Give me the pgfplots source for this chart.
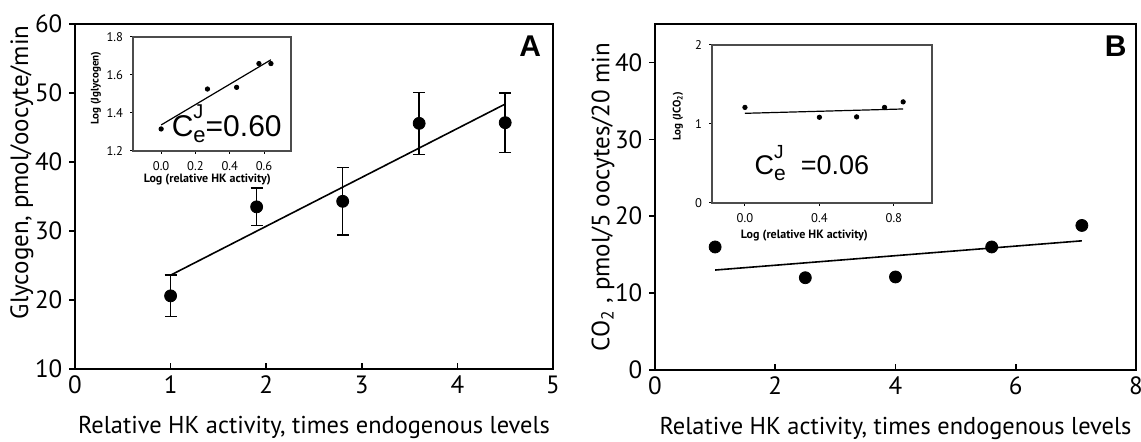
\documentclass[border=0pt]{standalone}
\usepackage{pgfplots}
\pgfplotsset{compat=1.18}
\usepackage{fontspec}
\setmainfont{PT Sans}
\newfontfamily\arial{Liberation Sans}
\pgfplotstableread{
x y e
1.0 20.6 3.0
1.9 33.5 2.7
2.8 34.3 4.9
3.6 45.6 4.5
4.5 45.7 4.3
}\dataA
\pgfplotstableread{
x y
1.0 16.0
2.5 12.0
4.0 12.1
5.6 16.0
7.1 18.8
}\dataB
\pgfplotstableread{
x y
0.00 1.316
0.27 1.526
0.44 1.535
0.57 1.66
0.64 1.66
}\insetA
\pgfplotstableread{
x y
0.00 1.21
0.40 1.085
0.60 1.09
0.75 1.21
0.85 1.28
}\insetB
\pgfplotsset{
  mainax/.style={
    scale only axis, anchor=south west,
    axis line style={line width=0.9pt},
    tick style={black, line width=0.8pt},
    xtick pos=bottom, ytick pos=left,
    xtick align=inside, ytick align=outside,
    major tick length=2.8pt,
    tick label style={font=\fontsize{12.5}{14}\selectfont},
    /pgf/number format/assume math mode=true,
    xlabel style={font=\fontsize{12.2}{14}\selectfont, at={(axis description cs:0.5,0)}, anchor=north, yshift=-23.5pt, inner sep=0pt},
    ylabel style={font=\fontsize{12.5}{14}\selectfont, inner sep=0pt},
  },
  inax/.style={
    scale only axis, anchor=south west,
    axis background/.style={fill=white},
    axis line style={line width=0.6pt, black!70},
    tick style={black, line width=0.5pt},
    xtick pos=bottom, ytick pos=left,
    tick align=outside, major tick length=1.5pt,
    tick label style={font=\fontsize{6.3}{7}\selectfont},
    /pgf/number format/assume math mode=true,
    xlabel style={font=\bfseries\fontsize{6}{7}\selectfont, inner sep=0pt},
    ylabel style={font=\bfseries\fontsize{5.5}{6}\selectfont, inner sep=0pt},
  },
}
\begin{document}
\begin{tikzpicture}
\useasboundingbox (0,0) rectangle (570.5pt,221pt);
% Panel A
\begin{axis}[mainax, at={(37.5pt,36.5pt)}, width=239pt, height=172.5pt,
  xmin=0, xmax=5, ymin=10, ymax=60,
  xtick={0,1,2,3,4,5}, ytick={10,20,30,40,50,60},
  xlabel={Relative HK activity, times endogenous levels},
  ylabel={Glycogen, pmol/oocyte/min},
  ylabel style={at={(axis description cs:-0.111,0.57)}, anchor=center},
]
\addplot[black, only marks, mark=*, mark size=3pt,
  error bars/.cd, y dir=both, y explicit, error mark options={rotate=90, mark size=3pt, line width=0.8pt}, error bar style={line width=0.8pt}]
  table[x=x, y=y, y error=e] {\dataA};
\addplot[black, line width=0.8pt] coordinates {(1,23.6) (4.5,48.4)};
\node[font=\arial\bfseries\fontsize{15}{15}\selectfont, anchor=north east] at (axis description cs:0.99,0.985) {A};
\end{axis}
% Panel B
\begin{axis}[mainax, at={(327.5pt,36pt)}, width=240.5pt, height=173pt,
  xmin=0, xmax=8, ymin=0, ymax=45,
  xtick={0,2,4,6,8}, ytick={0,10,20,30,40},
  xlabel={Relative HK activity, times endogenous levels},
  ylabel={CO\textsubscript{2} , pmol/5 oocytes/20 min},
  ylabel style={at={(axis description cs:-0.108,0.5)}, anchor=center},
]
\addplot[black, only marks, mark=*, mark size=3pt] table[x=x, y=y] {\dataB};
\addplot[black, line width=0.8pt] coordinates {(1,13.0) (7.1,16.8)};
\node[font=\arial\bfseries\fontsize{15}{15}\selectfont, anchor=north east] at (axis description cs:0.995,0.985) {B};
\end{axis}
% Inset A
\begin{axis}[inax, at={(66.5pt,145.5pt)}, width=79pt, height=57pt,
  xmin=-0.164, xmax=0.757, ymin=1.2, ymax=1.8,
  xtick={0,0.2,0.4,0.6}, ytick={1.2,1.4,1.6,1.8},
  xticklabels={0.0,0.2,0.4,0.6}, yticklabels={1.2,1.4,1.6,1.8},
  xlabel={Log (relative HK activity)}, ylabel={Log (Jglycogen)},
  xlabel style={at={(axis description cs:0.47,-0.2)}, anchor=north},
  ylabel style={at={(axis description cs:-0.2,0.55)}, anchor=south},
]
\addplot[black, only marks, mark=*, mark size=1.1pt] table[x=x, y=y] {\insetA};
\addplot[black, line width=0.6pt] coordinates {(0,1.337) (0.64,1.68)};
\node[font=\arial\fontsize{15}{15}\selectfont, anchor=south west, inner sep=0pt] at (axis cs:0.06,1.24)
  {C\makebox[0pt][l]{\raisebox{0.6em}{\fontsize{10}{10}\selectfont J}}\raisebox{-0.22em}{\fontsize{11}{11}\selectfont e}=0.60};
\end{axis}
% Inset B
\begin{axis}[inax, at={(356pt,119.5pt)}, width=110pt, height=79pt,
  xmin=-0.177, xmax=1.005, ymin=0, ymax=2,
  xtick={0,0.4,0.8}, ytick={0,1,2},
  xticklabels={0.0,0.4,0.8}, yticklabels={0,1,2},
  xlabel={Log (relative HK activity)}, ylabel={Log (JCO\textsubscript{2})},
  xlabel style={at={(axis description cs:0.42,-0.165)}, anchor=north},
  ylabel style={at={(axis description cs:-0.13,0.55)}, anchor=south},
]
\addplot[black, only marks, mark=*, mark size=1.1pt] table[x=x, y=y] {\insetB};
\addplot[black, line width=0.6pt] coordinates {(0,1.135) (0.85,1.19)};
\node[font=\arial\fontsize{13.5}{14}\selectfont, anchor=south west, inner sep=0pt] at (axis cs:0.05,0.28)
  {C\makebox[0pt][l]{\raisebox{0.6em}{\fontsize{9.5}{10}\selectfont J}}\raisebox{-0.22em}{\fontsize{10.5}{11}\selectfont e}\ \ =0.06};
\end{axis}
\end{tikzpicture}
\end{document}
